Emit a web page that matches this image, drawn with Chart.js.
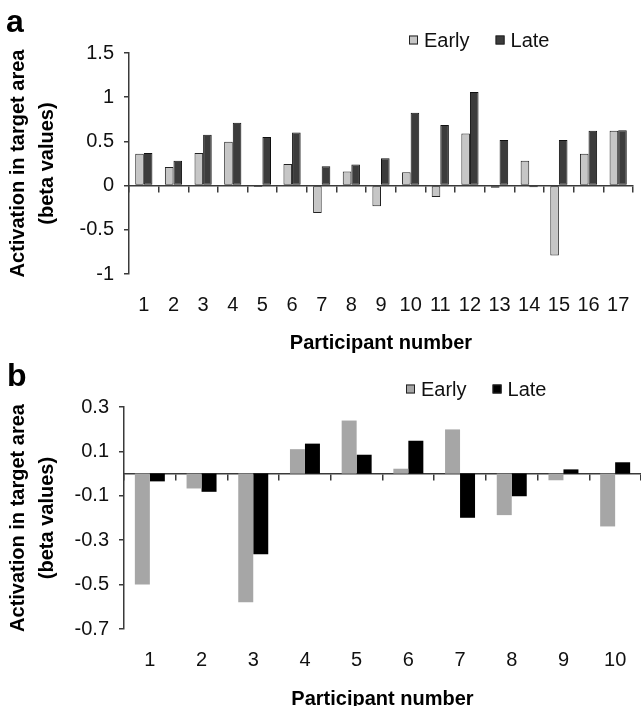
<!DOCTYPE html>
<html>
<head>
<meta charset="utf-8">
<script src="https://cdn.jsdelivr.net/npm/chart.js@4.4.1/dist/chart.umd.min.js"></script>
<style>
  body { margin: 0; background: #fff; }
  .panel { position: absolute; left: 0; width: 641px; height: 353px; }
</style>
</head>
<body>
<div class="panel" style="top:0"><canvas id="chartA" width="641" height="353"></canvas></div>
<div class="panel" style="top:353px"><canvas id="chartB" width="641" height="353"></canvas></div>
<script>
// panel a
const participantsA = ['1', '2', '3', '4', '5', '6', '7', '8', '9', '10', '11', '12', '13', '14', '15', '16', '17'];
const earlyA = [0.36, 0.21, 0.37, 0.495, -0.015, 0.245, -0.31, 0.16, -0.235, 0.15, -0.13, 0.59, -0.025, 0.28, -0.79, 0.36, 0.62];
const lateA = [0.37, 0.28, 0.575, 0.71, 0.55, 0.6, 0.22, 0.24, 0.31, 0.825, 0.685, 1.06, 0.515, -0.02, 0.515, 0.62, 0.625];
const yTicksA = [-1, -0.5, 0, 0.5, 1, 1.5];

// panel b
const participantsB = ['1', '2', '3', '4', '5', '6', '7', '8', '9', '10'];
const earlyB = [-0.5, -0.067, -0.58, 0.11, 0.239, 0.022, 0.199, -0.187, -0.03, -0.238];
const lateB = [-0.035, -0.082, -0.363, 0.135, 0.085, 0.148, -0.199, -0.102, 0.019, 0.051];
const yTicksB = [-0.7, -0.5, -0.3, -0.1, 0.1, 0.3];

const FONT = "'Liberation Sans', Arial, sans-serif";
const AXIS = '#3a3a3a';

// panel letter and the little legend above the plot
const panelDecor = {
    id: 'panelDecor',
    afterDraw(chart, args, opts) {
        const ctx = chart.ctx;
        ctx.save();
        ctx.fillStyle = '#000';
        ctx.font = 'bold 32px ' + FONT;
        ctx.textBaseline = 'alphabetic';
        ctx.fillText(opts.letter, opts.letterX, opts.letterY);
        ctx.font = '20px ' + FONT;
        ctx.textBaseline = 'middle';
        let x = opts.legendX;
        chart.data.datasets.forEach(ds => {
            ctx.fillStyle = ds.backgroundColor;
            ctx.fillRect(x, opts.legendY - 4.5, 9, 9);
            ctx.strokeStyle = '#222';
            ctx.lineWidth = 1;
            ctx.strokeRect(x + 0.5, opts.legendY - 4, 8, 8);
            ctx.fillStyle = '#111';
            ctx.fillText(ds.label, x + 15, opts.legendY + 1);
            x += 15 + ctx.measureText(ds.label).width + opts.gap;
        });
        ctx.restore();
    }
};

function panelOptions(yMin, yMax, yTicks, yWidth, xHeight, pad, titleShift, decor) {
    return {
        responsive: false,
        animation: false,
        layout: { padding: pad },
        plugins: {
            legend: { display: false },
            tooltip: { enabled: false },
            panelDecor: decor
        },
        scales: {
            x: {
                type: 'category',
                offset: true,
                grid: { display: false, drawTicks: false },
                border: { display: false },
                ticks: { color: '#111', font: { family: FONT, size: 20 }, padding: 19, maxRotation: 0, autoSkip: false },
                title: {
                    display: true,
                    text: 'Participant number',
                    color: '#000',
                    font: { family: FONT, size: 20, weight: 'bold' },
                    padding: { top: 0, bottom: titleShift }
                },
                afterFit: s => { s.height = xHeight; s.paddingLeft = 0; s.paddingRight = 0; }
            },
            x0: {
                // the zero line with its category tick marks
                type: 'category',
                position: { y: 0 },
                offset: true,
                grid: { offset: true, drawOnChartArea: false, tickLength: 6, color: AXIS, lineWidth: 1.5 },
                border: { color: AXIS, width: 1.5 },
                ticks: { display: false },
                afterFit: s => { s.height = 0; s.paddingLeft = 0; s.paddingRight = 0; }
            },
            y: {
                min: yMin,
                max: yMax,
                afterBuildTicks: s => { s.ticks = yTicks.map(v => ({ value: v })); },
                grid: { drawOnChartArea: false, tickLength: 5, color: AXIS, lineWidth: 1.5 },
                border: { color: AXIS, width: 1.5 },
                ticks: { color: '#111', font: { family: FONT, size: 20 }, padding: 10, callback: v => String(v) },
                title: {
                    display: true,
                    text: ['Activation in target area', '(beta values)'],
                    color: '#000',
                    font: { family: FONT, size: 20, weight: 'bold', lineHeight: 1.45 },
                    padding: { top: 4, bottom: 0 }
                },
                afterFit: s => { s.width = yWidth; }
            }
        }
    };
}

new Chart(document.getElementById('chartA'), {
    type: 'bar',
    data: {
        labels: participantsA,
        datasets: [{
            label: 'Early',
            data: earlyA,
            backgroundColor: '#c6c6c6',
            borderColor: '#222',
            borderWidth: 1,
            borderSkipped: false,
            categoryPercentage: 0.58,
            barPercentage: 1
        }, {
            label: 'Late',
            data: lateA,
            backgroundColor: '#3c3c3c',
            borderColor: '#111',
            borderWidth: 1,
            borderSkipped: false,
            categoryPercentage: 0.58,
            barPercentage: 1
        }]
    },
    options: panelOptions(-1, 1.5, yTicksA, 129, 79,
        { left: 0, top: 53, right: 8, bottom: 0 }, -2,
        { letter: 'a', letterX: 6, letterY: 32, legendX: 409, legendY: 40, gap: 26 }),
    plugins: [panelDecor]
});

new Chart(document.getElementById('chartB'), {
    type: 'bar',
    data: {
        labels: participantsB,
        datasets: [{
            label: 'Early',
            data: earlyB,
            backgroundColor: '#a6a6a6',
            borderWidth: 0,
            categoryPercentage: 0.58,
            barPercentage: 1
        }, {
            label: 'Late',
            data: lateB,
            backgroundColor: '#000000',
            borderWidth: 0,
            categoryPercentage: 0.58,
            barPercentage: 1
        }]
    },
    options: panelOptions(-0.7, 0.3, yTicksB, 124, 77,
        { left: 0, top: 54, right: 0, bottom: 0 }, -5,
        { letter: 'b', letterX: 7, letterY: 33, legendX: 406, legendY: 36, gap: 26 }),
    plugins: [panelDecor]
});
</script>
</body>
</html>
